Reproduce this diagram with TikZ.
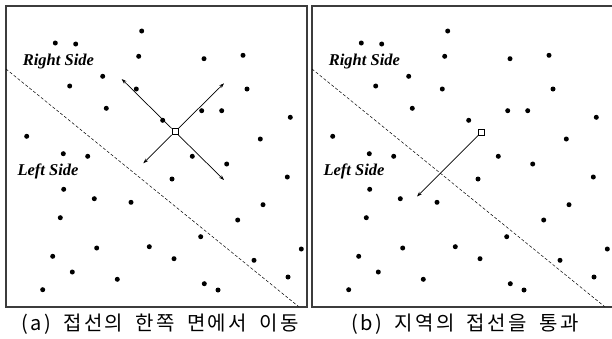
\documentclass[tikz,border=0pt]{standalone}
\usepackage{fontspec}
\setmainfont{Liberation Serif}
\newfontfamily\hangul[LetterSpace=12,WordSpace=1.8]{Noto Sans CJK KR}
\usetikzlibrary{arrows.meta,positioning,calc}
\definecolor{framegray}{RGB}{60,60,60}

% sample points (pixel units, y downwards)
\newcommand{\pointset}{141.7/31, 55.3/43, 75.7/44, 138.7/56.3, 204/58.7, 243/55.3,
  102.7/76.3, 69.7/86, 136.3/89, 247/89, 106.3/108.3, 201.7/110.7, 221.7/110.7,
  290.3/117.3, 162.7/120.3, 26.7/136.3, 260.3/139, 63.3/153.7, 87.7/156.3,
  192.3/156.3, 226.7/164, 172/179, 287.3/177, 63.7/189.3, 94.3/198.7, 131/202.3,
  263/204.7, 60.3/217.7, 237.7/220, 200.7/236.7, 96.7/248, 149.3/246.7, 301.3/249,
  52.7/256.3, 174/258.7, 254/260.3, 72.3/272, 117.3/279.3, 288/277, 204.3/283.7,
  218/290, 42.7/289.7}

\tikzset{
  panel/.style={draw=framegray, line width=1.2pt},
  tangent/.style={densely dashed, line width=0.5pt},
  sample/.style={fill=black},
  probe/.style={draw, fill=white, rectangle, minimum size=6pt, inner sep=0pt, line width=0.6pt},
  move/.style={-{Stealth[length=5pt,width=3.5pt]}, line width=0.7pt},
  side/.style={font=\fontsize{16.5}{18}\selectfont\bfseries\itshape, anchor=base west, inner sep=0pt},
  caption/.style={font=\fontsize{20}{22}\selectfont\hangul, inner sep=0pt}
}

\begin{document}
\begin{tikzpicture}[x=1pt, y=-1pt, >=Stealth]
    \useasboundingbox (0,0) rectangle (612,338);

    % (a) moving on one side of the tangent
    \begin{scope}[local bounding box=sidea]
        \draw[panel] (6,6) rectangle (307,307);
        \draw[tangent] (6,69) -- (298.5,306.5);
        \foreach \px/\py in \pointset {
            \fill[sample] (\px,\py) circle (2.5);
        }
        \node[side] (righta) at (22.7,65) {Right Side};
        \node[side] (lefta) at (17.3,175) {Left Side};

        \node[probe] (pa) at (175,131.7) {};
        \coordinate (ula) at (121.7,79);
        \coordinate (ura) at (224,83.3);
        \coordinate (lla) at (143.3,163.3);
        \coordinate (lra) at (224,180);
        \foreach \t in {ula,ura,lla,lra} {
            \draw[move] (pa) -- (\t);
        }

        \node[caption] (capa) at (160,324) {(a) 접선의 한쪽 면에서 이동};
    \end{scope}

    % (b) crossing the local tangent
    \begin{scope}[shift={(306,0)}, local bounding box=sideb]
        \draw[panel] (312,6) -- (6,6) -- (6,307) -- (312,307);
        \draw[tangent] (6,69) -- (298.5,306.5);
        \foreach \px/\py in \pointset {
            \fill[sample] (\px,\py) circle (2.5);
        }
        \node[side] (rightb) at (22.7,65) {Right Side};
        \node[side] (leftb) at (17.3,175) {Left Side};

        \node[probe] (pb) at (175.7,132) {};
        \coordinate (llb) at (111,196.5);
        \draw[move] (pb) -- (llb);

        \node[caption] (capb) at (159,324) {(b) 지역의 접선을 통과};
    \end{scope}

\end{tikzpicture}
\end{document}
